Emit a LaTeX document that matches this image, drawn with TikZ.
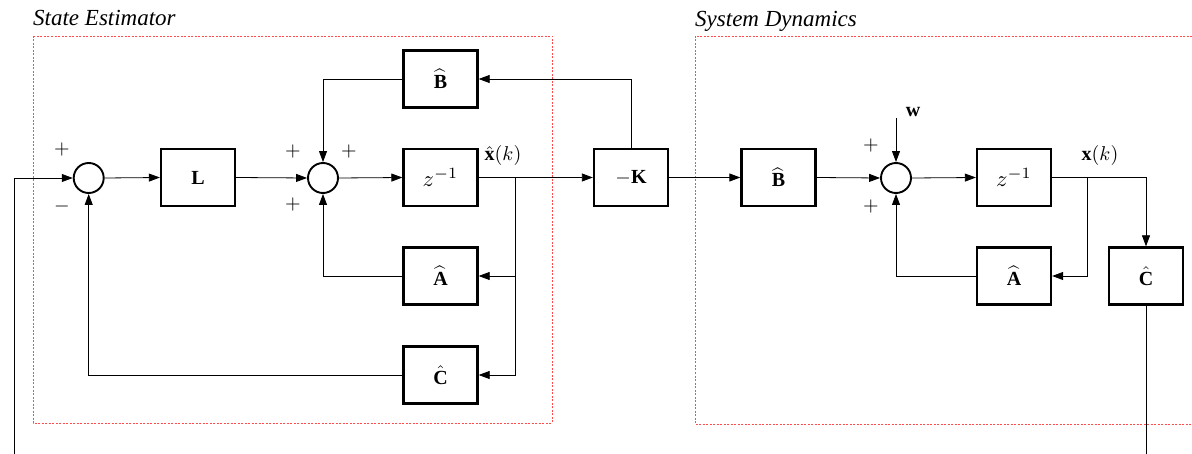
\documentclass[tikz,border=0pt]{standalone}
\usepackage{graphicx}
\usepackage{fontspec}
\setmainfont{Liberation Serif}
\usetikzlibrary{arrows.meta}
\newcommand\mymth[1]{\scalebox{2.0}{$#1$}}
\newcommand\mybig[1]{\scalebox{2.25}{$#1$}}
\begin{document}
\begin{tikzpicture}[x=1pt,y=-1pt,
  blk/.style={draw,line width=2.3pt,minimum width=74pt,minimum height=57pt,inner sep=0pt},
  sumc/.style={draw,circle,line width=1.9pt,minimum size=30pt,inner sep=0pt},
  arr/.style={line width=0.8pt,-{Triangle[length=11pt,width=8pt]}},
  ln/.style={line width=0.8pt},
  sgn/.style={inner sep=0pt},
  lbl/.style={inner sep=0pt},
  ttl/.style={font=\fontsize{23}{26}\selectfont\itshape,inner sep=0pt,anchor=base west},
  grp/.style={draw=red!70,dashed,dash pattern=on 2pt off 1.5pt,line width=0.7pt}]
\useasboundingbox (0,0) rectangle (1192,454);
% groups
\draw[grp] (33,36) rectangle (552,423);
\draw[grp] (1192,36) -- (695,36) -- (695,424) -- (1192,424);
\node[ttl] (t1) at (33,26) {State Estimator};
\node[ttl] (t2) at (695,27) {System Dynamics};
% estimator
\node[sumc] (s1) at (88.7,178) {};
\node[blk] (L) at (198,177.5) {\mymth{\mathbf{L}}};
\node[sumc] (s2) at (323,178) {};
\node[blk] (B1) at (440.5,79) {\mymth{\widehat{\mathbf{B}}}};
\node[blk] (Z1) at (440.5,177.5) {\mybig{z^{-1}}};
\node[blk] (A1) at (440.5,276) {\mymth{\widehat{\mathbf{A}}}};
\node[blk] (C1) at (440.5,375) {\mymth{\hat{\mathbf{C}}}};
\node[blk] (K) at (631,177.5) {\mymth{-\mathbf{K}}};
% system
\node[blk] (B2) at (778.5,177.5) {\mymth{\widehat{\mathbf{B}}}};
\node[sumc] (s3) at (896,178) {};
\node[blk] (Z2) at (1014,177.5) {\mybig{z^{-1}}};
\node[blk] (A2) at (1014,276) {\mymth{\widehat{\mathbf{A}}}};
\node[blk] (C2) at (1146,276) {\mymth{\hat{\mathbf{C}}}};
% coordinates
\coordinate (in) at (14,454);
\coordinate (b1) at (515,177.5);
\coordinate (b2) at (1087,177.5);
\coordinate (wi) at (896,118);
\coordinate (out) at (1146,454);
% labels
\node[lbl] (xh) at (503,156) {\mymth{\hat{\mathbf{x}}(k)}};
\node[lbl] (xk) at (1100,156) {\mymth{\mathbf{x}(k)}};
\node[lbl] (wl) at (913,112) {\mymth{\mathbf{w}}};
\node[sgn] (p1) at (62,150) {\mymth{+}};
\node[sgn] (m1) at (62,207) {\mymth{-}};
\node[sgn] (p2) at (293,152) {\mymth{+}};
\node[sgn] (p3) at (349,152) {\mymth{+}};
\node[sgn] (p4) at (293,205) {\mymth{+}};
\node[sgn] (p5) at (871,146) {\mymth{+}};
\node[sgn] (p6) at (871,207) {\mymth{+}};
% connectors estimator
\draw[arr] (in) |- (s1.west);
\draw[arr] (s1.east) -- (L.west);
\draw[arr] (L.east) -- (s2.west);
\draw[arr] (s2.east) -- (Z1.west);
\draw[arr] (Z1.east) -- (K.west);
\draw[arr] (b1) |- (A1.east);
\draw[arr] (b1) |- (C1.east);
\draw[arr] (A1.west) -| (s2.south);
\draw[arr] (C1.west) -| (s1.south);
\draw[arr] (K.north) |- (B1.east);
\draw[arr] (B1.west) -| (s2.north);
% connectors system
\draw[arr] (K.east) -- (B2.west);
\draw[arr] (B2.east) -- (s3.west);
\draw[arr] (wi) -- (s3.north);
\draw[arr] (s3.east) -- (Z2.west);
\draw[arr] (Z2.east) -| (C2.north);
\draw[arr] (b2) |- (A2.east);
\draw[arr] (A2.west) -| (s3.south);
\draw[ln] (C2.south) -- (out);
\end{tikzpicture}
\end{document}
